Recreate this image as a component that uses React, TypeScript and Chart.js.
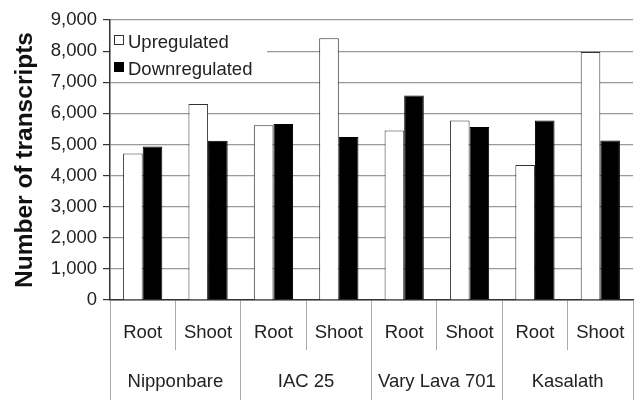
import React, { useEffect, useRef } from "react";
import { Chart, registerables } from "chart.js";

Chart.register(...registerables);

const subCategories = ["Root", "Shoot", "Root", "Shoot", "Root", "Shoot", "Root", "Shoot"];
const groups = ["Nipponbare", "IAC 25", "Vary Lava 701", "Kasalath"];
const upregulated = [4710, 6300, 5620, 8410, 5450, 5770, 4340, 7970];
const downregulated = [4930, 5120, 5660, 5240, 6570, 5560, 5770, 5130];
const yTicks = [0, 1000, 2000, 3000, 4000, 5000, 6000, 7000, 8000, 9000];

const FONT = "'Liberation Sans', Arial, sans-serif";
const TEXT = "#222";

const legendPlugin = {
  id: "insideLegend",
  afterDatasetsDraw(chart: any) {
    const { ctx, chartArea } = chart;
    const l = chartArea.left;
    const t = chartArea.top;
    ctx.save();
    ctx.fillStyle = "#fff";
    ctx.fillRect(l + 1, t + 3, 156, 57);
    ctx.font = `18.5px ${FONT}`;
    ctx.textBaseline = "middle";
    ctx.textAlign = "left";
    chart.data.datasets.forEach((ds: any, i: number) => {
      const y = t + 20 + i * 27;
      ctx.fillStyle = ds.backgroundColor;
      ctx.fillRect(l + 4.5, y - 4.5, 9, 9);
      ctx.strokeStyle = ds.borderColor;
      ctx.lineWidth = 1;
      ctx.strokeRect(l + 4.5, y - 4.5, 9, 9);
      ctx.fillStyle = TEXT;
      ctx.fillText(ds.label, l + 18, y + 3);
    });
    ctx.restore();
  },
};

export default function App() {
  const ref = useRef<HTMLCanvasElement>(null);
  useEffect(() => {
    if (!ref.current) return;
    const chart = new Chart(ref.current, {
      type: "bar",
      data: {
        labels: subCategories,
        datasets: [
          {
            label: "Upregulated",
            data: upregulated,
            backgroundColor: "#ffffff",
            borderColor: "#333333",
            borderWidth: 1,
            categoryPercentage: 0.6,
            barPercentage: 1,
          },
          {
            label: "Downregulated",
            data: downregulated,
            backgroundColor: "#000000",
            borderColor: "#000000",
            borderWidth: 1,
            categoryPercentage: 0.6,
            barPercentage: 1,
          },
        ],
      },
      options: {
        animation: false,
        responsive: true,
        maintainAspectRatio: false,
        layout: { padding: { left: 0, right: 3, top: 20, bottom: 0 } },
        plugins: {
          legend: { display: false },
          tooltip: { enabled: false },
        },
        scales: {
          x: {
            type: "category",
            position: "bottom",
            weight: 1,
            offset: true,
            grid: {
              offset: true,
              drawOnChartArea: false,
              drawTicks: true,
              tickLength: 50,
              tickColor: "#aaaaaa",
              color: "#aaaaaa",
              lineWidth: 1,
            },
            border: { display: true, color: "#333333", width: 1.5 },
            ticks: {
              padding: -28,
              color: TEXT,
              font: { family: FONT, size: 18.5 },
              maxRotation: 0,
              autoSkip: false,
            },
            afterFit: (s: any) => {
              s.height = 50;
            },
          },
          x2: {
            type: "category",
            position: "bottom",
            weight: 2,
            labels: groups,
            offset: true,
            grid: {
              offset: true,
              drawOnChartArea: false,
              drawTicks: true,
              tickLength: 50,
              tickColor: "#aaaaaa",
              color: "#aaaaaa",
              lineWidth: 1,
            },
            border: { display: false },
            ticks: {
              padding: -29,
              color: TEXT,
              font: { family: FONT, size: 18.5 },
              maxRotation: 0,
              autoSkip: false,
            },
            afterFit: (s: any) => {
              s.height = 50;
            },
          },
          y: {
            min: 0,
            max: 9000,
            afterBuildTicks: (s: any) => {
              s.ticks = yTicks.map((v) => ({ value: v }));
            },
            grid: {
              color: "#999999",
              lineWidth: 1.2,
              tickColor: "#333333",
              tickLength: 7,
            },
            border: { display: true, color: "#333333", width: 1.5 },
            ticks: {
              padding: 6,
              color: TEXT,
              font: { family: FONT, size: 18.5 },
              callback: (v: any) => Number(v).toLocaleString("en-US"),
            },
            title: {
              display: true,
              text: "Number of transcripts",
              color: "#111",
              font: { family: FONT, size: 24.5, weight: "bold" },
              padding: { top: 11, bottom: 0 },
            },
            afterFit: (s: any) => {
              s.width = 110;
            },
          },
        },
      },
      plugins: [legendPlugin],
    });
    return () => chart.destroy();
  }, []);
  return (
    <div style={{ position: "fixed", left: 0, top: 0, width: 636, height: 400, background: "#fff" }}>
      <canvas ref={ref} />
    </div>
  );
}
